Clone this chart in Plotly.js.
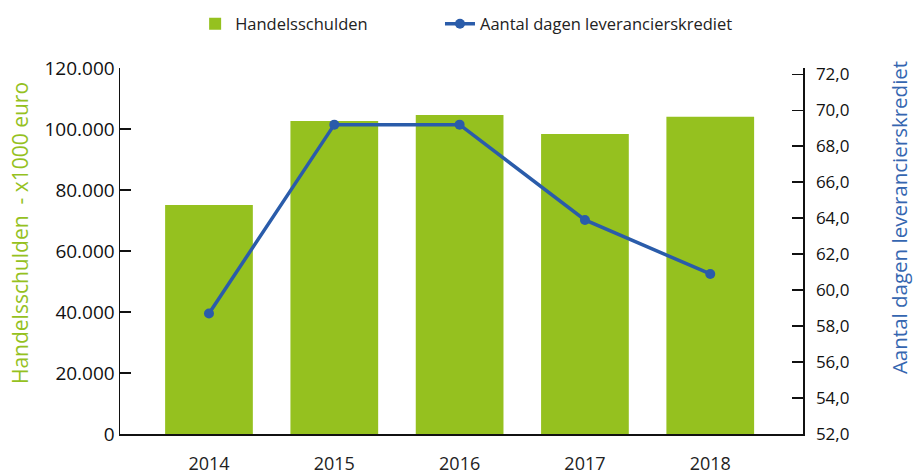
<!DOCTYPE html>
<html>
<head>
<meta charset="utf-8">
<script src="https://cdn.plot.ly/plotly-3.0.1.min.js"></script>
<style>html,body{margin:0;padding:0;background:#fff;}#chart{width:915px;height:474px;}</style>
</head>
<body>
<div id="chart"></div>
<script>
var years = ['2014', '2015', '2016', '2017', '2018'];
var handelsschulden = [75100, 102600, 104600, 98400, 104000];
var dagenKrediet = [58.7, 69.2, 69.2, 63.9, 60.9];
var leftTicks = [0, 20000, 40000, 60000, 80000, 100000, 120000];
var rightTicks = [52, 54, 56, 58, 60, 62, 64, 66, 68, 70, 72];
var leftTitle = 'Handelsschulden  - x1000 euro';
var rightTitle = 'Aantal dagen leverancierskrediet';

var green = '#95c11f';
var blue = '#2a5caa';
var font = 'Open Sans, Noto Sans, sans-serif';

var traces = [
  {
    type: 'bar', name: 'Handelsschulden', x: years, y: handelsschulden,
    marker: {color: green}, width: 0.7, yaxis: 'y', legend: 'legend', hoverinfo: 'x+y'
  },
  {
    type: 'scatter', mode: 'lines+markers', name: 'Aantal dagen leverancierskrediet',
    x: years, y: dagenKrediet, yaxis: 'y2', legend: 'legend2',
    line: {color: blue, width: 3.5}, marker: {color: blue, size: 10}
  }
];

var legendFont = {family: font, size: 16.5, color: '#222'};

var layout = {
  width: 915, height: 474,
  margin: {l: 120, r: 112, t: 68, b: 40, autoexpand: false},
  paper_bgcolor: '#fff', plot_bgcolor: '#fff',
  separators: ',.',
  font: {family: font, color: '#111', size: 16},
  showlegend: true,
  legend: {
    orientation: 'h', x: 0.11, xanchor: 'left', y: 1.12, yanchor: 'middle',
    font: legendFont
  },
  legend2: {
    orientation: 'h', x: 0.4685, xanchor: 'left', y: 1.12, yanchor: 'middle',
    font: legendFont
  },
  xaxis: {
    type: 'category', range: [-0.71, 4.74],
    showline: true, linecolor: '#111', linewidth: 1.5,
    ticks: '', showgrid: false, zeroline: false,
    tickfont: {family: font, size: 18, color: '#222'},
    ticklabelstandoff: 13
  },
  yaxis: {
    range: [0, 120000], tickvals: leftTicks, tickformat: ',.0f',
    showline: true, linecolor: '#111', linewidth: 1.5,
    ticks: 'inside', ticklen: 11, tickwidth: 1.5, tickcolor: '#111',
    showgrid: false, zeroline: false,
    tickfont: {family: font, size: 19, color: '#111'}
  },
  yaxis2: {
    overlaying: 'y', side: 'right', range: [52, 72.35], tickvals: rightTicks, tickformat: '.1f',
    showline: true, linecolor: '#111', linewidth: 1.5,
    ticks: 'inside', ticklen: 11, tickwidth: 1.5, tickcolor: '#111',
    showgrid: false, zeroline: false,
    tickfont: {family: font, size: 17, color: '#111'},
    ticklabelstandoff: 8
  },
  annotations: [
    {text: leftTitle, xref: 'paper', yref: 'paper', x: -0.1464, y: 0.549,
     xanchor: 'center', yanchor: 'middle', textangle: -90, showarrow: false,
     font: {family: font, size: 21, color: green}},
    {text: rightTitle, xref: 'paper', yref: 'paper', x: 1.1406, y: 0.59,
     xanchor: 'center', yanchor: 'middle', textangle: -90, showarrow: false,
     font: {family: font, size: 20.5, color: '#3566b0'}}
  ]
};

Plotly.newPlot('chart', traces, layout, {displayModeBar: false, staticPlot: true});
</script>
</body>
</html>
